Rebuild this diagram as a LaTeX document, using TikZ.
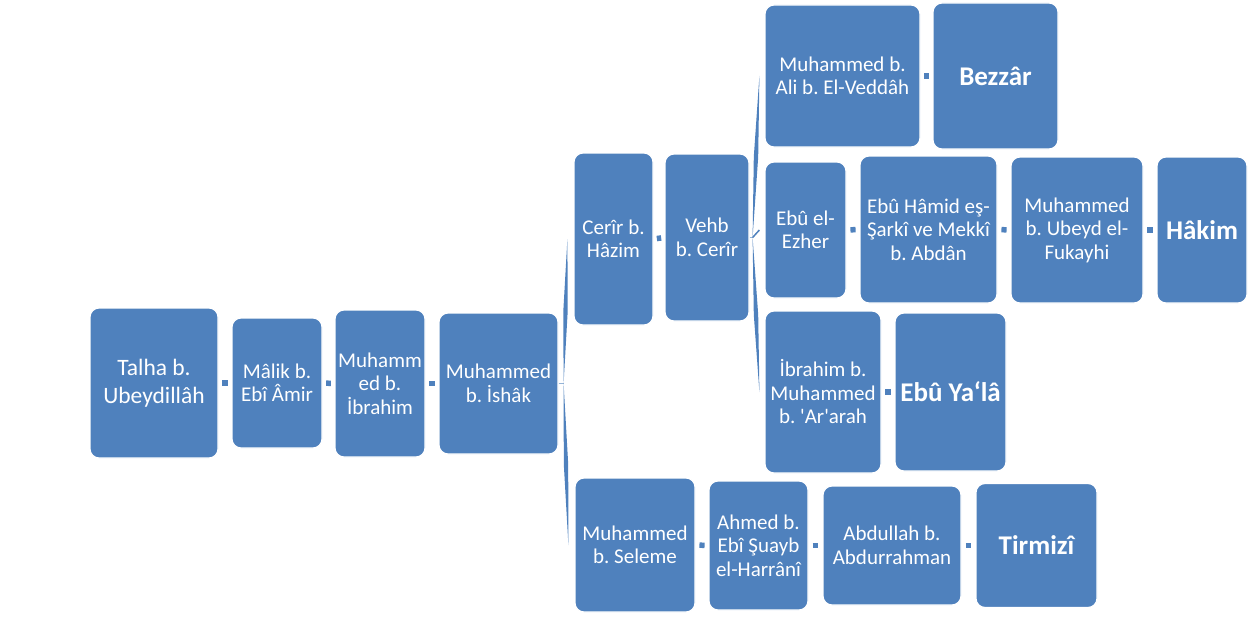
\documentclass[tikz,border=0pt]{standalone}
\usepackage{fontspec}
\setmainfont{Carlito}
\usetikzlibrary{calc}
\definecolor{boxblue}{RGB}{79,129,189}
\frenchspacing

\begin{document}
\begin{tikzpicture}[x=1pt,y=-1pt]
			\tikzstyle{box} = [rectangle,rounded corners=9pt,fill=boxblue,draw=white,line width=1.2pt,text=white,align=center,inner sep=2pt,font=\fontsize{21}{23.5}\selectfont];
			\tikzstyle{last} = [box,font=\fontsize{27}{30}\selectfont\bfseries];
			\tikzstyle{link} = [draw=boxblue,line width=5.5pt];
			\useasboundingbox (0,0) rectangle (1256,618);
			% main chain
			\node[box,minimum width=128,minimum height=150,font=\fontsize{23.5}{28}\selectfont] (talha) at (154,383) {Talha b.\\Ubeydillâh};
			\node[box,minimum width=90,minimum height=130] (malik) at (277,383) {Mâlik b.\\Ebî Âmir};
			\node[box,minimum width=90,minimum height=147] (ibrahim) at (380,383.5) {Muhamm\\ed b.\\İbrahim};
			\node[box,minimum width=119,minimum height=141] (ishak) at (498.5,383.5) {Muhammed\\b. İshâk};
			% upper branch
			\node[box,minimum width=79,minimum height=172] (cerir) at (613.5,239) {Cerîr b.\\Hâzim};
			\node[box,minimum width=84,minimum height=167] (vehb) at (707,237.5) {Vehb\\b. Cerîr};
			\node[box,minimum width=155,minimum height=142] (veddah) at (842.5,76) {Muhammed b.\\Ali b. El-Veddâh};
			\node[last,minimum width=125,minimum height=146] (bezzar) at (995.5,76) {Bezzâr};
			\node[box,minimum width=81,minimum height=136] (ezher) at (805.5,230) {Ebû el-\\Ezher};
			\node[box,minimum width=137,minimum height=147] (hamid) at (928.5,229.5) {Ebû Hâmid eş-\\Şarkî ve Mekkî\\b. Abdân};
			\node[box,minimum width=132,minimum height=146] (fukayhi) at (1077,230) {Muhammed\\b. Ubeyd el-\\Fukayhi};
			\node[last,minimum width=90,minimum height=146] (hakim) at (1202,230) {Hâkim};
			\node[box,minimum width=116,minimum height=162] (ararah) at (823,392) {İbrahim b.\\Muhammed\\b. \textquotesingle Ar\textquotesingle arah};
			\node[last,minimum width=111,minimum height=158] (ebuyala) at (950.5,392) {Ebû Ya‘lâ};
			% lower branch
			\node[box,minimum width=120,minimum height=134] (seleme) at (635,545) {Muhammed\\b. Seleme};
			\node[box,minimum width=99,minimum height=129] (ahmed) at (758.5,545.5) {Ahmed b.\\Ebî Şuayb\\el-Harrânî};
			\node[box,minimum width=138,minimum height=119] (abdullah) at (892,545.5) {Abdullah b.\\Abdurrahman};
			\node[last,minimum width=121,minimum height=124] (tirmizi) at (1036.5,545.5) {Tirmizî};
			% short links
			\foreach \a/\b in {talha/malik,malik/ibrahim,ibrahim/ishak,cerir/vehb,veddah/bezzar,ezher/hamid,hamid/fukayhi,fukayhi/hakim,ararah/ebuyala,seleme/ahmed,ahmed/abdullah,abdullah/tirmizi}
				\draw[link] ($(\a.east)!0.3!(\b.west)$) -- ($(\a.east)!0.7!(\b.west)$);
			% branch from ishak
			\coordinate (p1) at ($(ishak.east)+(5,0)$);
			\coordinate (a1) at ($(cerir.west)+(-6,0)$);
			\coordinate (b1) at ($(seleme.west)+(-6,0)$);
			\draw[boxblue!60,thin] (ishak.east) -- (p1);
			\fill[boxblue] (a1) -- ($(a1)!0.5!(p1)+(2.2,0)$) -- (p1) -- ($(b1)!0.5!(p1)+(2.2,0)$) -- (b1)
				-- ($(b1)!0.5!(p1)+(-2.2,0)$) -- (p1) -- ($(a1)!0.5!(p1)+(-2.2,0)$) -- cycle;
			% branch from vehb
			\coordinate (p2) at ($(vehb.east)+(3,0)$);
			\coordinate (a2) at ($(veddah.west)+(-5,0)$);
			\coordinate (m2) at ($(ezher.west)+(-5,0)$);
			\coordinate (b2) at ($(ararah.west)+(-5,0)$);
			\draw[boxblue!60,thin] (vehb.east) -- (p2);
			\draw[boxblue,line width=1.5pt] (p2) -- (m2);
			\fill[boxblue] (a2) -- ($(a2)!0.5!(p2)+(2.2,0)$) -- (p2) -- ($(b2)!0.5!(p2)+(2.2,0)$) -- (b2)
				-- ($(b2)!0.5!(p2)+(-2.2,0)$) -- (p2) -- ($(a2)!0.5!(p2)+(-2.2,0)$) -- cycle;
		\end{tikzpicture}
\end{document}
